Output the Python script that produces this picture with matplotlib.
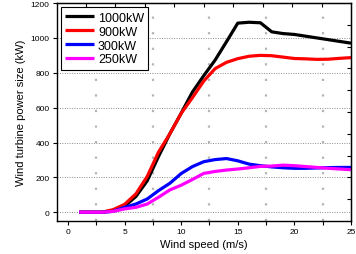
import numpy as np
import matplotlib
matplotlib.use("Agg")
import matplotlib.pyplot as plt

plt.rcParams['font.family'] = ['Liberation Sans', 'DejaVu Sans']

wind_speed = [1, 2, 3, 4, 5, 6, 7, 8, 9, 10, 11, 12, 13, 14, 15, 16, 17, 18, 19, 20, 21, 22, 23, 24, 25]
p1000 = [0, 0, 0, 10, 35, 90, 180, 320, 450, 568, 690, 784, 873, 978, 1085, 1090, 1087, 1035, 1025, 1020, 1010, 1000, 990, 980, 970]
p900 = [0, 0, 0, 15, 45, 105, 205, 345, 450, 567, 658, 753, 824, 860, 881, 895, 900, 898, 890, 882, 880, 877, 878, 883, 887]
p300 = [0, 0, 0, 5, 28, 47, 76, 124, 166, 222, 262, 290, 302, 308, 295, 276, 267, 260, 255, 252, 252, 254, 256, 257, 257]
p250 = [0, 0, 0, 5, 19, 28, 47, 86, 128, 155, 188, 223, 234, 242, 248, 255, 263, 265, 270, 267, 262, 257, 252, 248, 244]
labels = ['1000kW', '900kW', '300kW', '250kW']
colors = ['#000000', '#ff0000', '#0000ff', '#ff00ff']

fig = plt.figure(figsize=(3.56, 2.55), dpi=100)
ax = fig.add_axes([0.159, 0.131, 0.827, 0.853])

# grids
for yv in range(0, 1200, 200):
    ax.axhline(yv, color='#8c8c8c', lw=0.7, ls=(0, (1, 1.5)), zorder=0)
for xv in [2.5, 7.5, 12.5, 17.5, 22.5]:
    ax.axvline(xv, color='#b4b4b4', lw=1.6, ls=(0, (1, 6)), zorder=0)

for ys, lab, c in zip([p1000, p900, p300, p250], labels, colors):
    ax.plot(wind_speed, ys, color=c, lw=2.3, label=lab, solid_capstyle='butt')

ax.set_xlim(-1, 25)
ax.set_ylim(-48, 1200)
ax.set_xticks([0, 5, 10, 15, 20, 25])
ax.set_xticks([2.5, 7.5, 12.5, 17.5, 22.5], minor=True)
ax.set_yticks([0, 200, 400, 600, 800, 1000, 1200])
ax.tick_params(axis='both', which='major', direction='out', length=3, width=0.8, labelsize=6, pad=2)
ax.tick_params(axis='x', which='minor', direction='out', length=3, width=0.8)
ax.tick_params(axis='y', which='minor', left=False)

sec_x = ax.secondary_xaxis('top')
sec_x.set_xticks([25 - 2.6 * k for k in range(1, 10)])
sec_x.tick_params(direction='in', length=3, width=0.8, labeltop=False)
sec_y = ax.secondary_yaxis('right')
sec_y.set_yticks([75 + 125 * k for k in range(9)])
sec_y.tick_params(direction='in', length=3, width=0.8, labelright=False)

for sp in ax.spines.values():
    sp.set_linewidth(1.0)

ax.set_xlabel('Wind speed (m/s)', fontsize=8, labelpad=3)
ax.set_ylabel('Wind turbine power size (kW)', fontsize=8, labelpad=3)

leg = ax.legend(loc='upper left', bbox_to_anchor=(0.015, 0.98), borderaxespad=0,
                fontsize=9, frameon=True, fancybox=False, edgecolor='black',
                framealpha=1, handlelength=2.3, handletextpad=0.3,
                labelspacing=0.15, borderpad=0.35)
leg.get_frame().set_linewidth(0.8)
for ln in leg.get_lines():
    ln.set_linewidth(2.3)

fig.savefig('out.png', dpi=100)
